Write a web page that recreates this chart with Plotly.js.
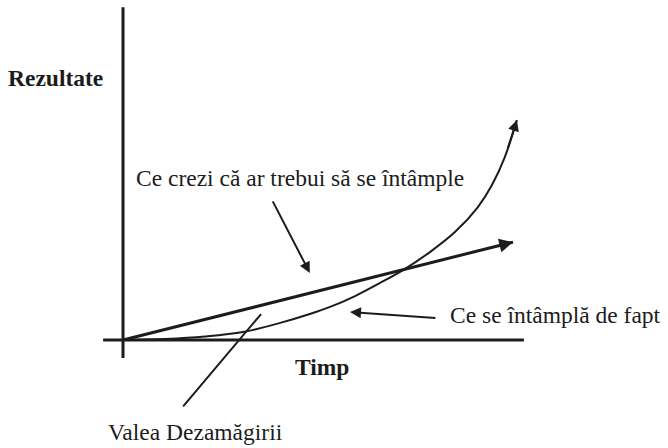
<!DOCTYPE html>
<html>
<head>
<meta charset="utf-8">
<script src="https://cdn.plot.ly/plotly-3.0.1.min.js"></script>
<style>
  html, body { margin: 0; padding: 0; background: #fff; }
  #chart { width: 668px; height: 448px; }
</style>
</head>
<body>
<div id="chart"></div>
<script>
// what you expect: a straight line
var timpAsteptari = [0, 10];
var asteptari = [0, 4.41];

// what really happens: slow start, then fast growth
var timpRealitate = [0, 1.08, 2.10, 3.08, 4.03, 4.79, 5.31, 5.95, 6.59, 7.18, 7.87, 8.51, 9.10, 9.46, 9.79, 10.1];
var realitate = [0, 0.05, 0.16, 0.36, 0.77, 1.17, 1.49, 1.98, 2.57, 3.15, 3.96, 4.86, 5.99, 6.98, 8.24, 9.91];

// labels
var titluY = "Rezultate";
var titluX = "Timp";
var etichetaAsteptari = "Ce crezi că ar trebui să se întâmple";
var etichetaRealitate = "Ce se întâmplă de fapt";
var etichetaVale = "Valea Dezamăgirii";

var ink = "#1c1c1c";
var serif = "'Liberation Serif', 'DejaVu Serif', serif";

var data = [
  {
    type: "scatter",
    mode: "lines",
    x: timpAsteptari,
    y: asteptari,
    line: {color: ink, width: 3},
    hoverinfo: "skip",
    showlegend: false
  },
  {
    type: "scatter",
    mode: "lines",
    x: timpRealitate,
    y: realitate,
    line: {color: ink, width: 2, shape: "spline", smoothing: 1},
    hoverinfo: "skip",
    showlegend: false
  }
];

function sageata(x, y, ax, ay, w) {
  return {
    x: x, y: y, ax: ax, ay: ay,
    xref: "x", yref: "y", axref: "x", ayref: "y",
    text: "", showarrow: true,
    arrowhead: 2, arrowsize: 1.1, arrowwidth: w, arrowcolor: ink
  };
}

function linie(x, y, ax, ay) {
  return {
    x: x, y: y, ax: ax, ay: ay,
    xref: "x", yref: "y", axref: "x", ayref: "y",
    text: "", showarrow: true,
    arrowhead: 0, arrowwidth: 2, arrowcolor: ink
  };
}

function text(t, x, y, anchor, bold) {
  return {
    x: x, y: y, xref: "x", yref: "y",
    text: bold ? "<b>" + t + "</b>" : t,
    showarrow: false, xanchor: anchor, yanchor: "middle",
    font: {family: serif, size: 23.5, color: ink}
  };
}

var n = timpRealitate.length;

var layout = {
  width: 668,
  height: 448,
  margin: {l: 0, r: 0, t: 0, b: 0},
  paper_bgcolor: "#fff",
  plot_bgcolor: "#fff",
  xaxis: {range: [-3.154, 13.974], visible: false, fixedrange: true},
  yaxis: {range: [-4.865, 15.315], visible: false, fixedrange: true},
  shapes: [
    {type: "line", xref: "x", yref: "y", x0: 0, x1: 0, y0: -0.81, y1: 14.99, line: {color: ink, width: 3}},
    {type: "line", xref: "x", yref: "y", x0: -0.51, x1: 10.28, y0: 0, y1: 0, line: {color: ink, width: 3}}
  ],
  annotations: [
    // arrow tips on the two lines
    sageata(timpAsteptari[1], asteptari[1], 9.6, 4.23, 2.5),
    sageata(timpRealitate[n - 1], realitate[n - 1], 9.86, 8.6, 2),
    // pointers from labels
    sageata(4.79, 3.02, 3.82, 6.31, 2),
    sageata(5.82, 1.26, 8.05, 0.99, 2),
    linie(3.54, 1.17, 1.51, -3.06),
    // texts
    text(titluY, -1.74, 11.8, "center", true),
    text(titluX, 5.10, -1.22, "center", true),
    text(etichetaAsteptari, 4.54, 7.30, "center", false),
    text(etichetaRealitate, 8.33, 1.13, "left", false),
    text(etichetaVale, 1.86, -4.14, "center", false)
  ]
};

Plotly.newPlot("chart", data, layout, {staticPlot: true, displayModeBar: false});
</script>
</body>
</html>
